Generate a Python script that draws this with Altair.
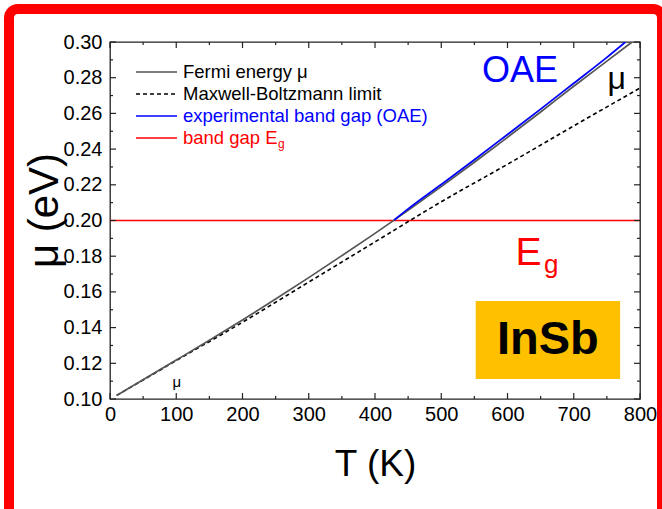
import altair as alt
import pandas as pd

# ---------------- data ----------------
T_fermi = [10, 50, 100, 150, 200, 250, 300, 350, 400, 450, 500, 550, 600, 650, 700, 750, 788]
mu_fermi = [0.102, 0.1108, 0.1218, 0.1329, 0.1443, 0.156, 0.168, 0.1803, 0.1928, 0.2057, 0.219,
            0.2326, 0.2466, 0.2608, 0.2752, 0.2893, 0.300]

T_mb = [10, 100, 200, 300, 400, 500, 600, 700, 800]
mu_mb = [0.102, 0.1215, 0.143, 0.1655, 0.188, 0.2105, 0.2315, 0.253, 0.2742]

T_oae = [429, 450, 500, 550, 600, 650, 700, 750, 778]
mu_oae = [0.2003, 0.2065, 0.2202, 0.234, 0.2482, 0.2624, 0.2769, 0.2914, 0.300]

E_gap = 0.20

x_major = [0, 100, 200, 300, 400, 500, 600, 700, 800]
x_minor = [50, 150, 250, 350, 450, 550, 650, 750]
y_major = [0.10, 0.12, 0.14, 0.16, 0.18, 0.20, 0.22, 0.24, 0.26, 0.28, 0.30]
y_minor = [0.11, 0.13, 0.15, 0.17, 0.19, 0.21, 0.23, 0.25, 0.27, 0.29]

legend_labels = ["Fermi energy \u03bc", "Maxwell-Boltzmann limit",
                 "experimental band gap (OAE)", "band gap E"]
legend_line_colors = ["#555555", "#000000", "#0000ff", "#ff0000"]
legend_text_colors = ["#000000", "#000000", "#0000ff", "#ff0000"]
legend_dashed = [False, True, False, False]

FONT = "Liberation Sans"
W, H = 530, 357

xs = alt.Scale(domain=[0, 800], nice=False, zero=False)
ys = alt.Scale(domain=[0.10, 0.30], nice=False, zero=False)

x_axis = alt.Axis(values=x_major, format="d", title="T (K)", labelFontSize=20,
                  labelPadding=5, labelFlush=False, titleFontSize=37, titleFontWeight="normal",
                  titleX=265, titleY=76, titleBaseline="alphabetic", titleAlign="center")
y_axis = alt.Axis(values=y_major, format=".2f", title="\u03bc (eV)", labelFontSize=20,
                  labelPadding=8, labelFlush=False, titleFontSize=42, titleFontWeight="normal",
                  titleX=-53, titleY=168, titleBaseline="alphabetic", titleAlign="center",
                  titleAngle=270)

X = alt.X("T:Q", scale=xs, axis=x_axis)
Y = alt.Y("mu:Q", scale=ys, axis=y_axis)

df_f = pd.DataFrame({"T": T_fermi, "mu": mu_fermi})
df_mb = pd.DataFrame({"T": T_mb, "mu": mu_mb})
df_o = pd.DataFrame({"T": T_oae, "mu": mu_oae})
one = pd.DataFrame({"a": [0]})

fermi = alt.Chart(df_f).mark_line(color="#555555", strokeWidth=1.7, clip=True,
                                  interpolate="monotone").encode(x=X, y=Y)
mb = alt.Chart(df_mb).mark_line(color="#000000", strokeWidth=1.6, strokeDash=[4, 3],
                                clip=True, interpolate="monotone").encode(x=X, y=Y)
oae = alt.Chart(df_o).mark_line(color="#0000ff", strokeWidth=1.8, clip=True,
                                interpolate="monotone").encode(x=X, y=Y)
gap = alt.Chart(pd.DataFrame({"mu": [E_gap]})).mark_rule(color="#ff0000", strokeWidth=1.6).encode(y=Y)

# inward ticks
df_xM = pd.DataFrame({"T": x_major})
df_xm = pd.DataFrame({"T": x_minor})
df_yM = pd.DataFrame({"mu": y_major})
df_ym = pd.DataFrame({"mu": y_minor})
tk = dict(color="#222222", strokeWidth=1.2)
ticks = [
    alt.Chart(df_xM).mark_rule(**tk).encode(x=X, y=alt.value(H), y2=alt.value(H - 6)),
    alt.Chart(df_xm).mark_rule(**tk).encode(x=X, y=alt.value(H), y2=alt.value(H - 3)),
    alt.Chart(df_xM).mark_rule(**tk).encode(x=X, y=alt.value(0), y2=alt.value(6)),
    alt.Chart(df_xm).mark_rule(**tk).encode(x=X, y=alt.value(0), y2=alt.value(3)),
    alt.Chart(df_yM).mark_rule(**tk).encode(y=Y, x=alt.value(0), x2=alt.value(6)),
    alt.Chart(df_ym).mark_rule(**tk).encode(y=Y, x=alt.value(0), x2=alt.value(3)),
    alt.Chart(df_yM).mark_rule(**tk).encode(y=Y, x=alt.value(W), x2=alt.value(W - 6)),
    alt.Chart(df_ym).mark_rule(**tk).encode(y=Y, x=alt.value(W), x2=alt.value(W - 3)),
]

# legend (drawn manually)
legend_layers = []
for i, (lab, lc, tc, dsh) in enumerate(zip(legend_labels, legend_line_colors,
                                           legend_text_colors, legend_dashed)):
    yy = 30 + 22 * i
    rule_kw = dict(color=lc, strokeWidth=1.6)
    if dsh:
        rule_kw["strokeDash"] = [4, 3]
    legend_layers.append(alt.Chart(one).mark_rule(**rule_kw).encode(
        x=alt.value(26), x2=alt.value(67), y=alt.value(yy)))
    legend_layers.append(alt.Chart(one).mark_text(
        text=lab, color=tc, font=FONT, fontSize=18.5, align="left", baseline="middle").encode(
        x=alt.value(73), y=alt.value(yy)))
legend_layers.append(alt.Chart(one).mark_text(
    text="g", color="#ff0000", font=FONT, fontSize=12, align="left", baseline="middle").encode(
    x=alt.value(168), y=alt.value(30 + 22 * 3 + 6)))

# annotations
def txt(t, mu, s, **kw):
    return alt.Chart(pd.DataFrame({"T": [t], "mu": [mu]})).mark_text(text=s, font=FONT, **kw).encode(x=X, y=Y)

ann = [
    txt(619, 0.2838, "OAE", color="#0000ff", fontSize=36, align="center", baseline="middle"),
    txt(765, 0.2790, "\u03bc", color="#000000", fontSize=32, align="center", baseline="middle"),
    txt(612, 0.1752, "E", color="#ff0000", fontSize=39, align="left", baseline="alphabetic"),
    txt(655, 0.1705, "g", color="#ff0000", fontSize=26, align="left", baseline="alphabetic"),
    txt(101, 0.1095, "\u03bc", color="#000000", fontSize=15, align="center", baseline="middle"),
]
box = alt.Chart(pd.DataFrame({"T": [552], "T2": [770], "mu": [0.1549], "mu2": [0.1112]})).mark_rect(
    color="#ffc000").encode(x=X, x2="T2:Q", y=Y, y2="mu2:Q")
insb = txt(661, 0.1331, "InSb", color="#000000", fontSize=47, fontWeight="bold",
           align="center", baseline="middle")

border = alt.Chart(one).mark_rect(fill="transparent", stroke="#ff0000", strokeWidth=10,
                                  cornerRadius=9).encode(
    x=alt.value(-101), x2=alt.value(552), y=alt.value(-33), y2=alt.value(478))

chart = alt.layer(
    gap, mb, fermi, oae, box, insb, *ann, *legend_layers, *ticks, border
).properties(
    width=W, height=H,
    padding={"left": 110, "top": 42, "right": 22, "bottom": 110},
    autosize=alt.AutoSizeParams(type="none"),
    background="white",
).configure_view(
    stroke="#222222", strokeWidth=1.3
).configure_axis(
    domain=False, ticks=False, grid=False, labelFont=FONT, titleFont=FONT,
    labelColor="#000000", titleColor="#000000"
)

chart.save("out.html", embed_options={"renderer": "svg", "actions": False})
